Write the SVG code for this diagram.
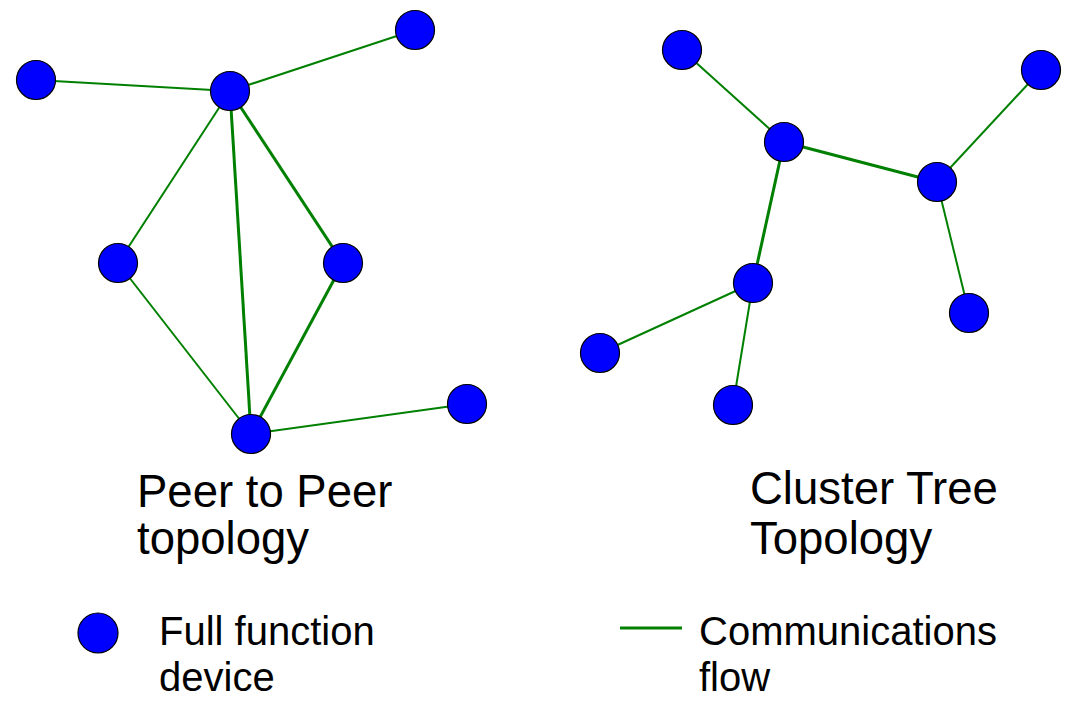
<svg xmlns="http://www.w3.org/2000/svg" width="1068" height="704" viewBox="0 0 1068 704">
<style>
.n{fill:#0000ff;stroke:#000;stroke-width:1.2}
.e{stroke:#008000;stroke-width:2;fill:none}
.t{stroke-width:3}
.big{font-family:"Liberation Sans",Arial,sans-serif;font-size:45.5px;fill:#000}
.sm{font-family:"Liberation Sans",Arial,sans-serif;font-size:40px;fill:#000}
</style>
<rect width="1068" height="704" fill="#fff"/>
<g id="connectors">
<line class="e" x1="36" y1="80" x2="230" y2="91"/>
<line class="e" x1="230" y1="91" x2="415" y2="30"/>
<line class="e" x1="230" y1="91" x2="118" y2="263"/>
<line class="e t" x1="230" y1="91" x2="343" y2="263"/>
<line class="e t" x1="230" y1="91" x2="251" y2="434"/>
<line class="e" x1="118" y1="263" x2="251" y2="434"/>
<line class="e t" x1="343" y1="263" x2="251" y2="434"/>
<line class="e" x1="251" y1="434" x2="467" y2="404"/>
<line class="e" x1="682" y1="50" x2="784" y2="142"/>
<line class="e t" x1="784" y1="142" x2="937" y2="182"/>
<line class="e" x1="937" y1="182" x2="1041" y2="70"/>
<line class="e" x1="937" y1="182" x2="969" y2="313"/>
<line class="e t" x1="784" y1="142" x2="753" y2="283"/>
<line class="e" x1="753" y1="283" x2="600" y2="353"/>
<line class="e" x1="753" y1="283" x2="733" y2="405"/>
</g>
<g id="p2p-a"><circle class="n" cx="36" cy="80" r="19.5"/></g>
<g id="p2p-hub"><circle class="n" cx="230" cy="91" r="19.5"/></g>
<g id="p2p-tr"><circle class="n" cx="415" cy="30" r="19.5"/></g>
<g id="p2p-lm"><circle class="n" cx="118" cy="263" r="19.5"/></g>
<g id="p2p-rm"><circle class="n" cx="343" cy="263" r="19.5"/></g>
<g id="p2p-b"><circle class="n" cx="251" cy="434" r="19.5"/></g>
<g id="p2p-br"><circle class="n" cx="467" cy="404" r="19.5"/></g>
<g id="ct-1"><circle class="n" cx="682" cy="50" r="19.5"/></g>
<g id="ct-2"><circle class="n" cx="784" cy="142" r="19.5"/></g>
<g id="ct-3"><circle class="n" cx="1041" cy="70" r="19.5"/></g>
<g id="ct-4"><circle class="n" cx="937" cy="182" r="19.5"/></g>
<g id="ct-5"><circle class="n" cx="753" cy="283" r="19.5"/></g>
<g id="ct-6"><circle class="n" cx="969" cy="313" r="19.5"/></g>
<g id="ct-7"><circle class="n" cx="600" cy="353" r="19.5"/></g>
<g id="ct-8"><circle class="n" cx="733" cy="405" r="19.5"/></g>
<g id="label-p2p">
<text class="big" x="137" y="507">Peer to Peer</text>
<text class="big" x="137" y="554">topology</text>
</g>
<g id="label-ct">
<text class="big" x="750" y="504">Cluster Tree</text>
<text class="big" x="750" y="554">Topology</text>
</g>
<g id="legend-ffd">
<circle class="n" cx="98" cy="633" r="20"/>
<text class="sm" x="159" y="645">Full function</text>
<text class="sm" x="159" y="691">device</text>
</g>
<g id="legend-flow">
<line class="e t" x1="620" y1="628" x2="682" y2="628"/>
<text class="sm" x="699" y="645">Communications</text>
<text class="sm" x="699" y="691">flow</text>
</g>
</svg>
